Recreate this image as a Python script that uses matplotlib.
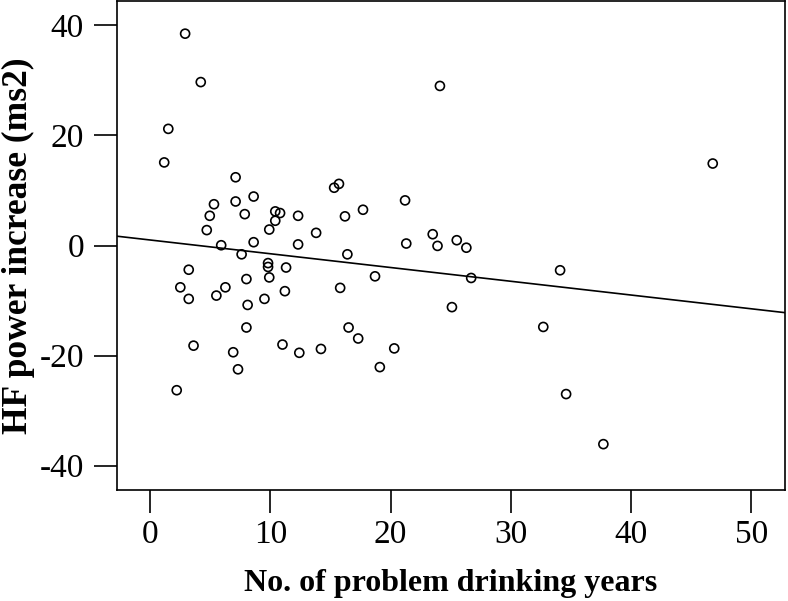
import matplotlib
matplotlib.use("Agg")
import matplotlib.pyplot as plt
import numpy as np

# problem drinking years vs HF power increase
years = [2.9, 4.2, 1.5, 1.16, 7.1, 15.3, 15.7, 8.6, 5.3, 7.1,
         4.95, 7.86, 10.4, 10.8, 10.4, 12.3, 16.2, 17.7, 4.7, 9.9,
         13.8, 5.9, 8.6, 12.3, 24.1, 21.2, 23.5, 21.3, 23.9, 25.5,
         26.3, 46.8, 7.6, 16.4, 9.8, 9.8, 11.3, 3.2, 8.0, 9.9,
         2.5, 6.25, 15.8, 3.2, 5.5, 9.5, 11.2, 8.1, 8.0, 16.5,
         17.3, 3.6, 6.9, 11.0, 12.4, 14.2, 7.3, 2.2, 18.7, 26.7,
         34.1, 25.1, 20.3, 19.1, 32.7, 34.6, 37.7]
hf_increase = [38.5, 29.7, 21.2, 15.1, 12.4, 10.5, 11.2, 8.9, 7.5, 8.0,
               5.4, 5.7, 6.2, 5.9, 4.5, 5.4, 5.3, 6.5, 2.8, 2.9,
               2.3, 0.05, 0.6, 0.2, 29.0, 8.2, 2.05, 0.36, -0.07, 0.96,
               -0.4, 14.9, -1.6, -1.6, -3.2, -3.9, -4.0, -4.4, -6.1, -5.8,
               -7.6, -7.6, -7.7, -9.7, -9.1, -9.7, -8.3, -10.8, -14.9, -14.9,
               -16.9, -18.2, -19.4, -18.0, -19.5, -18.8, -22.5, -26.3, -5.6, -5.9,
               -4.5, -11.2, -18.7, -22.1, -14.8, -27.0, -36.1]

# fitted line as drawn in the figure
fit_intercept = 1.0
fit_slope = -0.25

xticks = [0, 10, 20, 30, 40, 50]
yticks = [-40, -20, 0, 20, 40]

plt.rcParams['font.family'] = ['Liberation Serif', 'DejaVu Serif']
plt.rcParams['axes.unicode_minus'] = False

fig = plt.figure(figsize=(7.88, 6.01), dpi=100)
ax = fig.add_axes([0.148, 0.185, 0.848, 0.813])

ax.scatter(years, hf_increase, s=42, facecolors='none', edgecolors='black',
           linewidths=1.2, zorder=3)
ax.axline((0, fit_intercept), slope=fit_slope, color='black', lw=1.2)

ax.set_xlim(-2.8, 52.8)
ax.set_ylim(-44.4, 44.4)
ax.set_xticks(xticks)
ax.set_yticks(yticks)
ax.tick_params(direction='out', length=16.5, width=1.2, labelsize=24)
ax.tick_params(axis='x', pad=5)
ax.tick_params(axis='y', pad=7)
for s in ax.spines.values():
    s.set_linewidth(1.2)

ax.set_xlabel("No. of problem drinking years", fontsize=23, fontweight='bold')
ax.set_ylabel("HF power increase (ms2)", fontsize=25.5, fontweight='bold')
ax.xaxis.set_label_coords(0.5, -0.163)
ax.yaxis.set_label_coords(-0.122, 0.5)

fig.savefig("out.png", dpi=100)
